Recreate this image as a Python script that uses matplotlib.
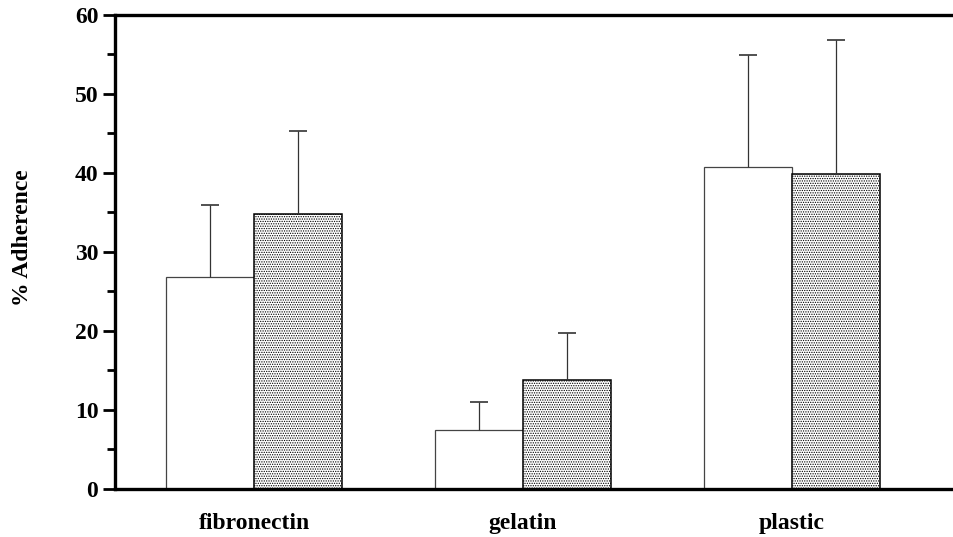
import numpy as np
import matplotlib.pyplot as plt

# データ
substrates = ["fibronectin", "gelatin", "plastic"]
open_vals = [26.8, 7.5, 40.8]
open_err = [9.2, 3.5, 14.1]
dotted_vals = [34.8, 13.8, 39.9]
dotted_err = [10.5, 5.9, 16.9]
yticks = [0, 10, 20, 30, 40, 50, 60]

plt.rcParams['font.family'] = ['Liberation Serif', 'DejaVu Serif']
plt.rcParams['hatch.linewidth'] = 0.6
plt.rcParams['hatch.color'] = '#3a3a3a'

fig = plt.figure(figsize=(9.54, 5.37), dpi=100)
ax = fig.add_axes([0.1205, 0.0894, 0.8795, 0.8827])

x = np.arange(len(substrates))
w = 0.327

ax.bar(x - w / 2, open_vals, w, color='white', edgecolor='#444444', linewidth=0.9)
ax.bar(x + w / 2, dotted_vals, w, color='white', edgecolor='black', linewidth=1.1,
       hatch='.......')

# 上側だけのエラーバー
for xs, vals, errs in [(x - w / 2, open_vals, open_err), (x + w / 2, dotted_vals, dotted_err)]:
    _, caps, _ = ax.errorbar(xs, vals, yerr=[np.zeros(3), errs], fmt='none',
                             ecolor='#333333', elinewidth=0.9, capsize=6.5, capthick=1.2)
    caps[0].set_visible(False)

ax.set_xlim(-0.517, 2.602)
ax.set_ylim(0, 60)
ax.set_yticks(yticks)
ax.set_yticks(np.arange(5, 60, 10), minor=True)
ax.set_xticks(x)
ax.set_xticklabels(substrates, fontsize=17, fontweight='bold')
ax.tick_params(axis='x', length=0, pad=17)
ax.tick_params(axis='y', which='major', length=9, width=2, labelsize=17, pad=3)
ax.tick_params(axis='y', which='minor', length=6, width=2)
for lab in ax.get_yticklabels():
    lab.set_fontweight('bold')

ax.set_ylabel("% Adherence", fontsize=17, fontweight='bold')
ax.yaxis.set_label_coords(-0.098, 0.53)

for s in ['left', 'bottom', 'top']:
    ax.spines[s].set_linewidth(2.4)
ax.spines['right'].set_visible(False)

fig.savefig("out.png", dpi=100)
